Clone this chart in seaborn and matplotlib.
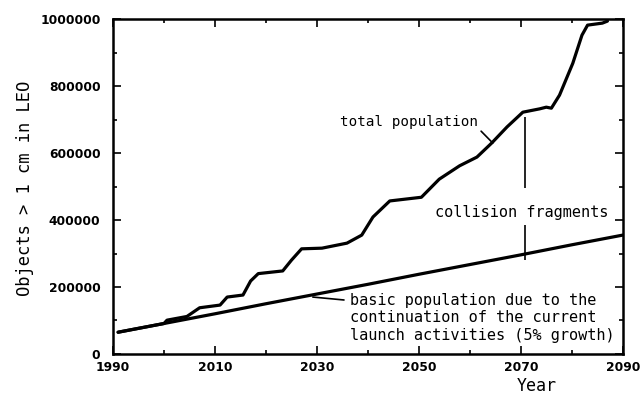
import matplotlib
matplotlib.use("Agg")
import matplotlib.pyplot as plt
import pandas as pd
import seaborn as sns
from matplotlib.ticker import MultipleLocator

# Basic population (continuation of current launch activities)
basic_years = [1991, 2000, 2010, 2020, 2030, 2040, 2050, 2060, 2070, 2080, 2090]
basic_pop = [65000, 91000, 120000, 150000, 179000, 208000, 238000, 267000, 296000, 326000, 355000]

# Total population including collision fragments
total_years = [1991, 2000, 2000.6, 2004.5, 2007, 2011, 2012.4, 2015.5, 2017, 2018.5,
               2023.3, 2025, 2027, 2031, 2035.9, 2038.8, 2041, 2044.3, 2050.5, 2054,
               2058, 2061.4, 2064.3, 2067.3, 2070.4, 2073.7, 2075, 2076, 2077.6, 2080.2,
               2082, 2083.1, 2086, 2087]
total_pop = [65000, 91000, 101000, 112000, 138000, 146000, 170000, 176000, 218000, 240000,
             248000, 280000, 314000, 316000, 331000, 355000, 409000, 457000, 468000, 522000,
             562000, 588000, 630000, 678000, 722000, 732000, 737000, 734000, 773000, 868000,
             952000, 982000, 988000, 994000]

x_ticks = [1990, 2010, 2030, 2050, 2070, 2090]
y_ticks = [0, 200000, 400000, 600000, 800000, 1000000]

basic_df = pd.DataFrame({"Year": basic_years, "Objects": basic_pop})
total_df = pd.DataFrame({"Year": total_years, "Objects": total_pop})

sns.set_style("ticks")
plt.rcParams["font.family"] = ["DejaVu Sans"]
plt.rcParams["text.color"] = "black"

fig = plt.figure(figsize=(6.42, 3.98), dpi=100)
ax = fig.add_axes([0.176, 0.1106, 0.794, 0.8414])

sns.lineplot(data=basic_df, x="Year", y="Objects", ax=ax, color="black",
             lw=2.3, estimator=None, sort=False)
sns.lineplot(data=total_df, x="Year", y="Objects", ax=ax, color="black",
             lw=2.3, estimator=None, sort=False)

ax.set_xlim(1990, 2090)
ax.set_ylim(0, 1000000)
ax.set_xticks(x_ticks)
ax.set_yticks(y_ticks)
ax.set_xticklabels([str(t) for t in x_ticks])
ax.set_yticklabels([str(t) for t in y_ticks])
ax.xaxis.set_minor_locator(MultipleLocator(10))
ax.yaxis.set_minor_locator(MultipleLocator(100000))

for side in ["left", "right", "top", "bottom"]:
    ax.spines[side].set_visible(True)
    ax.spines[side].set_linewidth(1.8)
    ax.spines[side].set_color("black")

ax.tick_params(which="both", direction="in", top=True, right=True, width=1.2,
               colors="black")
ax.tick_params(which="major", length=6)
ax.tick_params(which="minor", length=3)
ax.tick_params(axis="y", pad=9)
ax.tick_params(axis="x", pad=5)
for lab in ax.get_xticklabels() + ax.get_yticklabels():
    lab.set_fontweight("bold")
    lab.set_fontsize(8.8)
    lab.set_color("black")

mono = "DejaVu Sans Mono"

ax.set_xlabel("")
ax.set_ylabel("Objects > 1 cm in LEO", family=mono, fontsize=12.3, color="black")
ax.yaxis.label.set_va("center")
ax.yaxis.set_label_coords(-0.1725, 0.495)

fig.text(537 / 642, 1 - 377 / 398, "Year", family=mono, fontsize=12,
         ha="center", va="top", color="black")

# Labels with leader lines
ax.annotate("total population", xy=(2064.5, 630000), xytext=(2034.5, 692000),
            family=mono, fontsize=10.3, ha="left", va="center", color="black",
            arrowprops=dict(arrowstyle="-", lw=1.2, color="black",
                            shrinkA=0, shrinkB=0, relpos=(1.0, 0.1)))

ax.text(2053.1, 421000, "collision fragments", family=mono, fontsize=11,
        ha="left", va="center", color="black")
ax.vlines(2070.8, 495000, 707000, color="black", lw=1.2)
ax.vlines(2070.8, 281000, 385000, color="black", lw=1.2)

ax.annotate("basic population due to the\ncontinuation of the current\nlaunch activities (5% growth)",
            xy=(2029.2, 170000), xytext=(2036.5, 107500),
            family=mono, fontsize=11, ha="left", va="center", linespacing=1.2,
            color="black",
            arrowprops=dict(arrowstyle="-", lw=1.2, color="black",
                            shrinkA=2, shrinkB=0, relpos=(0.0, 0.85)))

fig.savefig("out.png", dpi=100, facecolor="white")
